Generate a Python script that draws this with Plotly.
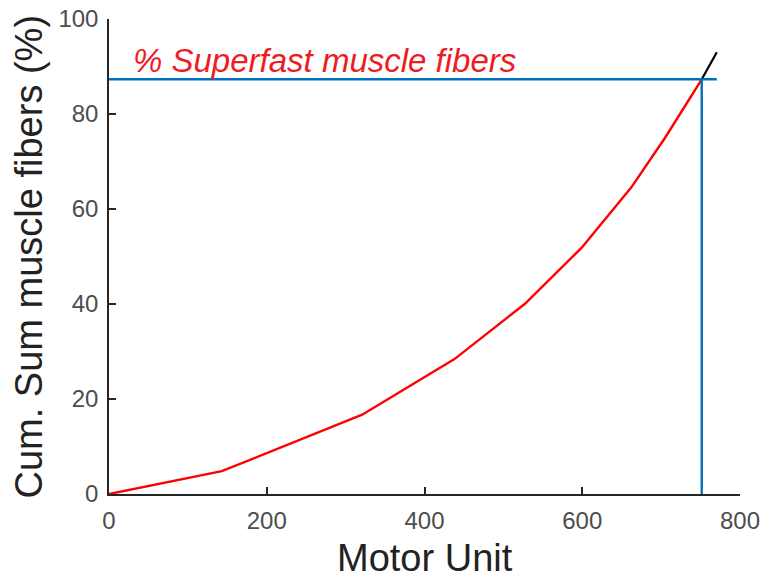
import plotly.graph_objects as go

# Cumulative sum curve (motor unit index vs cumulative % of muscle fibers)
motor_unit = [0, 143, 321, 438, 527, 599, 662, 705, 751.5, 770.6]
cum_fibers = [0, 4.8, 16.7, 28.4, 40.0, 51.8, 64.5, 75.0, 87.3, 93.0]

# Superfast threshold
thr_mu = 751.5
thr_pct = 87.3

annotation_text = "% Superfast muscle fibers"
x_title = "Motor Unit"
y_title = "Cum. Sum muscle fibers (%)"
x_ticks = [0, 200, 400, 600, 800]
y_ticks = [0, 20, 40, 60, 80, 100]

FONT = "Liberation Sans, Arial, Helvetica, sans-serif"

red_x = [x for x in motor_unit if x <= thr_mu]
red_y = [y for x, y in zip(motor_unit, cum_fibers) if x <= thr_mu]
blk_x = [x for x in motor_unit if x >= thr_mu]
blk_y = [y for x, y in zip(motor_unit, cum_fibers) if x >= thr_mu]

fig = go.Figure()
fig.add_trace(go.Scatter(x=blk_x, y=blk_y, mode="lines",
                         line=dict(color="#000000", width=2.2), showlegend=False))
fig.add_trace(go.Scatter(x=red_x, y=red_y, mode="lines",
                         line=dict(color="#FF0000", width=2.4), showlegend=False))
# threshold lines
fig.add_trace(go.Scatter(x=[0, max(motor_unit)], y=[thr_pct, thr_pct], mode="lines",
                         line=dict(color="#0072BD", width=2.4), showlegend=False))
fig.add_trace(go.Scatter(x=[thr_mu, thr_mu], y=[0, thr_pct], mode="lines",
                         line=dict(color="#0072BD", width=2.4), showlegend=False))

fig.add_annotation(x=28, y=91.2, xref="x", yref="y",
                   text="<i>" + annotation_text + "</i>",
                   showarrow=False, xanchor="left", yanchor="middle",
                   font=dict(family=FONT, size=33, color="#EC1C24"))

# axis titles
fig.add_annotation(x=0.5, y=0, xref="paper", yref="paper", text=x_title,
                   showarrow=False, xanchor="center", yanchor="middle", yshift=-63.5,
                   font=dict(family=FONT, size=38, color="#222222"))
fig.add_annotation(x=0, y=0.5, xref="paper", yref="paper", text=y_title,
                   showarrow=False, xanchor="center", yanchor="middle", xshift=-81,
                   textangle=-90,
                   font=dict(family=FONT, size=38, color="#222222"))

axis_common = dict(showgrid=False, zeroline=False, showline=True, automargin=False,
                   linecolor="#262626", linewidth=1.5,
                   ticks="inside", ticklen=7, tickwidth=1.5, tickcolor="#262626",
                   ticklabeloverflow="allow",
                   tickfont=dict(family=FONT, size=24, color="#4D4D4D"))

fig.update_xaxes(range=[0, 800], tickvals=x_ticks, ticklabelstandoff=4, **axis_common)
fig.update_yaxes(range=[0, 100], tickvals=y_ticks, ticklabelstandoff=4, **axis_common)

fig.update_layout(width=764, height=581,
                  margin=dict(l=109, r=24, t=18.5, b=86.5, autoexpand=False),
                  paper_bgcolor="white", plot_bgcolor="white")

fig.write_html("out.html", config={"displayModeBar": False},
               post_script="document.body.style.margin='0';document.body.style.overflow='hidden';")
